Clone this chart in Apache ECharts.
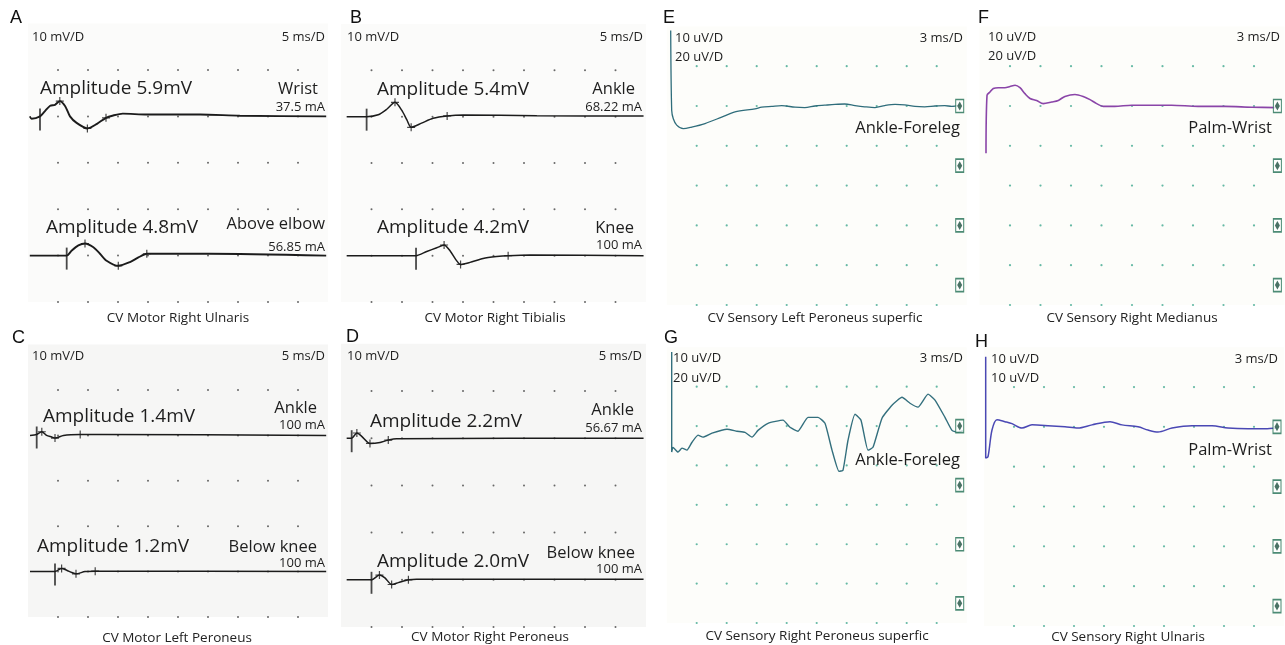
<!DOCTYPE html>
<html><head><meta charset="utf-8">
<script src="https://cdn.jsdelivr.net/npm/echarts@6/dist/echarts.min.js"></script>
<style>html,body{margin:0;padding:0;background:#fff}#c{width:1285px;height:645px}</style>
</head><body><div id="c"></div>
<script>
// ---- tick / grid dot values ----
const motorDotX = [5, 10, 15, 20, 25, 30, 35, 40, 45];      // ms (5 ms/D)
const motorDotY = [0, 10, 20, 30, 40, 50];                  // mV (10 mV/D)
const sensDotX = [3, 6, 9, 12, 15, 18, 21, 24, 27];         // ms (3 ms/D)
const sensDotY = [0, 10, 20, 30, 40, 50, 60];               // uV (10 uV/D)
const channelLevels = [50, 35, 20, 5];                      // right-edge channel markers (uV)
const channelMarkTime = 29.3;

// ---- motor traces [ms, mV relative to channel baseline] ----
const traceA1 = [[0.3,0],[0.6,-0.5],[2.0,0],[2.8,1.1],[3.7,2.3],[4.5,2.5],[5.3,3.3],[6.2,2.2],[7.0,0],[8.1,-1.4],[9.9,-2.6],[11.5,-1.6],[13.0,-0.3],[14.2,0.2],[15.8,0.6],[19.8,0.4],[28.7,0.4],[35.3,0.15],[49.7,0]];
const traceA2 = [[0.3,0],[6.45,0],[7.3,1.1],[8.4,2.2],[9.5,2.6],[10.9,1.8],[12.0,0.4],[13.1,-1.1],[15.05,-2.2],[17.0,-1.4],[18.4,-0.4],[19.8,0.4],[21.45,0.4],[30.3,0.4],[49.7,0]];
const traceB1 = [[0.93,0],[4.2,0],[6.1,0.4],[7.5,1.6],[8.85,3.1],[9.95,1.4],[10.8,-0.7],[11.5,-2.3],[13.2,-1.4],[15.1,-0.35],[17.4,0.15],[20.05,0.35],[32.1,0.2],[49.6,0.15]];
const traceB2 = [[0.93,0],[12.3,0],[14.05,0.9],[15.7,1.7],[16.9,2.3],[17.9,1.0],[18.85,-0.9],[19.6,-1.9],[21.15,-1.45],[23.3,-0.6],[25.5,-0.2],[27.4,0],[31.0,0.15],[49.6,0]];
const traceC1 = [[0.33,0],[1.45,0.2],[2.3,0.8],[3.1,0],[3.95,-0.35],[4.5,-0.6],[5.9,0],[8.7,0.2],[12,0.2],[49.7,0]];
const traceC2 = [[0.33,0],[4.5,0],[5.6,0.7],[6.45,0.3],[7.3,-0.2],[8.0,-0.5],[9.5,0],[11.2,0.1],[49.7,0]];
const traceD1 = [[0.93,0],[1.75,0],[2.6,1.1],[3.4,0.4],[4.75,-1.1],[6.4,-0.9],[7.75,-0.4],[9.1,-0.1],[49.6,0]];
const traceD2 = [[0.93,0],[5.0,0],[6.3,1.0],[7.2,0.4],[8.3,-1.0],[9.4,-0.6],[11.05,0],[12.4,0.1],[49.6,0.1]];

// ---- sensory traces [ms, uV relative to channel baseline] ----
const traceE = [[0.4,19],[0.5,-1.1],[0.66,-3.2],[1.0,-4.8],[1.66,-5.7],[2.5,-5.3],[3.83,-4.4],[5.5,-2.8],[6.83,-1.5],[8.83,-0.7],[9.5,-0.3],[10.5,-0.1],[11.5,0.1],[12.83,-0.3],[13.8,-0.4],[14.83,0],[15.8,0.2],[16.83,0.4],[17.8,0.5],[18.83,0.1],[19.8,-0.2],[20.83,-0.4],[21.8,0.1],[22.83,0.4],[23.8,0.3],[24.83,-0.1],[25.8,-0.2],[26.83,0],[27.8,0.1],[28.5,-0.1],[29.33,0.2]];
const traceF = [[0.64,-11.9],[0.74,2.7],[1.03,3.5],[1.36,4.4],[1.85,4.6],[2.5,4.6],[3.0,4.9],[3.5,5.2],[3.98,4.6],[4.47,3.1],[4.97,1.9],[5.62,1.4],[6.27,0.6],[7.1,1.0],[7.75,1.4],[8.4,2.4],[9.39,2.9],[10.2,2.4],[10.87,1.6],[11.52,0.6],[12.17,-0.1],[13.3,-0.1],[14.97,0.2],[16.93,0.2],[18.9,0.2],[21.5,-0.1],[24.13,-0.1],[26.76,-0.3],[29.22,-0.4]];
const traceG = [[0.5,18.8],[0.5,-6.6],[0.63,-5.4],[1.13,-6.6],[1.53,-5.6],[2.03,-6.1],[2.53,-4.1],[3.13,-2.3],[3.63,-2.8],[4.53,-1.8],[6.03,-0.8],[7.03,-1.3],[7.83,-1.6],[8.53,-2.8],[9.13,-1.1],[10.13,0.7],[11.63,1.5],[12.33,-0.3],[13.13,-1.3],[14.13,2.2],[15.13,2.2],[15.83,0.7],[16.53,-6.1],[17.23,-11.5],[17.63,-11.2],[18.13,-3.6],[18.83,3.0],[19.43,1.5],[20.13,-6.1],[20.63,-5.4],[21.53,2.0],[22.53,5.3],[23.53,7.3],[24.33,5.8],[25.13,4.8],[26.13,8.1],[26.83,6.6],[27.83,2.2],[28.53,-1.1],[29.13,-1.6],[29.63,-1.1]];
const traceH = [[0.17,17.6],[0.17,-7.8],[0.4,-7.5],[0.8,-0.8],[1.3,1.8],[2.1,1.3],[2.8,0.8],[3.8,-0.3],[4.8,0.5],[6.4,0.3],[8.1,0],[9.4,-0.3],[10.8,0.5],[12.6,1.3],[13.8,0.5],[15.4,0],[16.4,-0.8],[17.4,-1.3],[18.8,-0.3],[20.8,0.3],[22.8,0.3],[24.4,-0.3],[26.4,-0.5],[28.1,-0.5],[29.3,-0.3]];

// ---- texts ----
const panelLetters = ['A','B','C','D','E','F','G','H'];
const motorScale = ['10 mV/D', '5 ms/D'];
const sensScale = ['3 ms/D'];
const captions = ['CV Motor Right Ulnaris','CV Motor Right Tibialis','CV Motor Left Peroneus','CV Motor Right Peroneus',
  'CV Sensory Left Peroneus superfic','CV Sensory Right Medianus','CV Sensory Right Peroneus superfic','CV Sensory Right Ulnaris'];
const amplitudeLabels = [['Amplitude 5.9mV','Amplitude 4.8mV'],['Amplitude 5.4mV','Amplitude 4.2mV'],['Amplitude 1.4mV','Amplitude 1.2mV'],['Amplitude 2.2mV','Amplitude 2.0mV']];
const siteLabels = [['Wrist','Above elbow'],['Ankle','Knee'],['Ankle','Below knee'],['Ankle','Below knee']];
const currentLabels = [['37.5 mA','56.85 mA'],['68.22 mA','100 mA'],['100 mA','100 mA'],['56.67 mA','100 mA']];
const sensSites = ['Ankle-Foreleg','Palm-Wrist','Ankle-Foreleg','Palm-Wrist'];
const sensGains = [['10 uV/D','20 uV/D'],['10 uV/D','20 uV/D'],['10 uV/D','20 uV/D'],['10 uV/D','10 uV/D']];

// ---- layout ----
const motorPanels = [
  {grid:{left:28, top:23.6, width:300, height:278.4}, bg:'#fbfbfa', traces:[{d:traceA1, base:40, stim:2, marks:[6,10,12]},{d:traceA2, base:10, stim:1, marks:[4,8,11]}], w:1.9,
   letter:[10,18], scale:[32,325,37], amp:[[40,89],[46,228]], site:[[318,89],[325,224]], cur:[[325,107],[325,247]], cap:[178,318]},
  {grid:{left:341, top:24, width:305, height:278}, bg:'#fbfbfa', traces:[{d:traceB1, base:40, stim:1, marks:[4,7,10]},{d:traceB2, base:10, stim:1, marks:[4,7,11]}], w:1.5,
   letter:[350,18], scale:[347,643,37], amp:[[377,90],[377,228]], site:[[635,89],[634,228]], cur:[[642,107],[642,245]], cap:[495,318]},
  {grid:{left:28, top:344.6, width:300, height:272.4}, bg:'#f6f6f5', traces:[{d:traceC1, base:40, stim:1, marks:[2,5,7]},{d:traceC2, base:10, stim:1, marks:[2,5,7]}], w:1.5,
   letter:[12,338], scale:[32,325,356], amp:[[43,417],[37,547]], site:[[317,408],[317,547]], cur:[[325,425],[325,563]], cap:[177,638]},
  {grid:{left:341, top:343.8, width:305, height:283.2}, bg:'#f6f6f5', traces:[{d:traceD1, base:40, stim:1, marks:[2,4,6]},{d:traceD2, base:10, stim:1, marks:[2,4,6]}], w:1.5,
   letter:[346,337], scale:[347,642,356], amp:[[370,422],[377,562]], site:[[634,410],[635,553]], cur:[[642,428],[642,569]], cap:[490,637]}
];
const sensPanels = [
  {grid:{left:666.7, top:26.4, width:300, height:278.6}, d:traceE, color:'#2f6d7b', w:1.3, smooth:0.3, letter:[663,18], gain:[675,38,57], ms:[963,38], site:[960,128], cap:[815,318]},
  {grid:{left:979.5, top:26.4, width:305, height:278.6}, d:traceF, color:'#8a45a8', w:1.6, smooth:0.3, letter:[978,18], gain:[988,37,56], ms:[1280,37], site:[1272,128], cap:[1132,318]},
  {grid:{left:666.7, top:347.3, width:300, height:275.7}, d:traceG, color:'#336f7d', w:1.4, smooth:0.15, letter:[664,338], gain:[673,358,378], ms:[963,358], site:[960,460], cap:[817,636]},
  {grid:{left:984, top:347.2, width:300, height:278.8}, d:traceH, color:'#4a48b4', w:1.5, smooth:0.3, letter:[975,342], gain:[991,359,378], ms:[1278,359], site:[1272,450], cap:[1128,637]}
];

const FONT = '"Open Sans", "Noto Sans", sans-serif';
const grids = [], xAxes = [], yAxes = [], series = [], graphics = [];
function txt(s, x, y, size, align, color, family) {
  graphics.push({type:'text', x:x, y:y, z:100, style:{text:s, font: size + 'px ' + (family || FONT), fill: color || '#1e1e1e', align: align || 'left', verticalAlign:'middle'}});
}
const plus = 'path://M3.4,0H4.6V3.4H8V4.6H4.6V8H3.4V4.6H0V3.4H3.4Z';

motorPanels.forEach((p, i) => {
  grids.push(Object.assign({show:true, backgroundColor:p.bg, borderWidth:0}, p.grid));
  xAxes.push({gridIndex:i, type:'value', min:0, max:50, show:false});
  yAxes.push({gridIndex:i, type:'value', min:0, max:60, show:false});
  const dots = [];
  motorDotX.forEach(x => motorDotY.forEach(y => dots.push([x, y])));
  series.push({type:'scatter', xAxisIndex:i, yAxisIndex:i, data:dots, symbolSize:2, itemStyle:{color:'#444'}, silent:true});
  p.traces.forEach(t => {
    const pts = t.d.map(v => [v[0], v[1] + t.base]);
    series.push({type:'line', xAxisIndex:i, yAxisIndex:i, data:pts, showSymbol:false, smooth:0.25, lineStyle:{color:'#1b1b1b', width:p.w}, silent:true});
    series.push({type:'scatter', xAxisIndex:i, yAxisIndex:i, data:[pts[t.stim]], symbol:'rect', symbolSize:[1.8,22], symbolOffset:[0,3], itemStyle:{color:'#1b1b1b'}, silent:true});
    series.push({type:'scatter', xAxisIndex:i, yAxisIndex:i, data:t.marks.map(k => pts[k]), symbol:plus, symbolSize:8, itemStyle:{color:'#1b1b1b'}, silent:true});
  });
  txt(panelLetters[i], p.letter[0], p.letter[1], 18, 'left', '#111', '"Liberation Sans", Arial, sans-serif');
  txt(motorScale[0], p.scale[0], p.scale[2], 13, 'left');
  txt(motorScale[1], p.scale[1], p.scale[2], 13, 'right');
  for (let k = 0; k < 2; k++) {
    txt(amplitudeLabels[i][k], p.amp[k][0], p.amp[k][1], 19, 'left');
    txt(siteLabels[i][k], p.site[k][0], p.site[k][1], 16.5, 'right');
    txt(currentLabels[i][k], p.cur[k][0], p.cur[k][1], 13, 'right');
  }
  txt(captions[i], p.cap[0], p.cap[1], 13.5, 'center', '#222');
});

sensPanels.forEach((p, j) => {
  const i = j + 4;
  grids.push(Object.assign({show:true, backgroundColor:'#fdfdfa', borderWidth:0}, p.grid));
  xAxes.push({gridIndex:i, type:'value', min:0, max:30, show:false});
  yAxes.push({gridIndex:i, type:'value', min:0, max:70, show:false});
  const dots = [];
  sensDotX.forEach(x => sensDotY.forEach(y => dots.push([x, y])));
  series.push({type:'scatter', xAxisIndex:i, yAxisIndex:i, data:dots, symbolSize:2.2, itemStyle:{color:'#3fa88f'}, silent:true});
  series.push({type:'line', xAxisIndex:i, yAxisIndex:i, data:p.d.map(v => [v[0], v[1] + 50]), showSymbol:false, smooth:p.smooth, lineStyle:{color:p.color, width:p.w}, silent:true});
  series.push({type:'scatter', xAxisIndex:i, yAxisIndex:i, data:channelLevels.map(v => [channelMarkTime, v]), symbol:'rect', symbolSize:[8,13], itemStyle:{color:'#ffffff', borderColor:'#1f6e52', borderWidth:1.3}, silent:true, z:5});
  series.push({type:'scatter', xAxisIndex:i, yAxisIndex:i, data:channelLevels.map(v => [channelMarkTime, v]), symbol:'diamond', symbolSize:[5,9], itemStyle:{color:'#1d4f3e'}, silent:true, z:6});
  txt(panelLetters[i], p.letter[0], p.letter[1], 18, 'left', '#111', '"Liberation Sans", Arial, sans-serif');
  txt(sensGains[j][0], p.gain[0], p.gain[1], 13, 'left');
  txt(sensGains[j][1], p.gain[0], p.gain[2], 13, 'left');
  txt(sensScale[0], p.ms[0], p.ms[1], 13, 'right');
  txt(sensSites[j], p.site[0], p.site[1], 16.5, 'right');
  txt(captions[i], p.cap[0], p.cap[1], 13.5, 'center', '#222');
});

const chart = echarts.init(document.getElementById('c'), null, {renderer:'canvas'});
chart.setOption({animation:false, backgroundColor:'#ffffff', grid:grids, xAxis:xAxes, yAxis:yAxes, series:series, graphic:graphics});
</script></body></html>
